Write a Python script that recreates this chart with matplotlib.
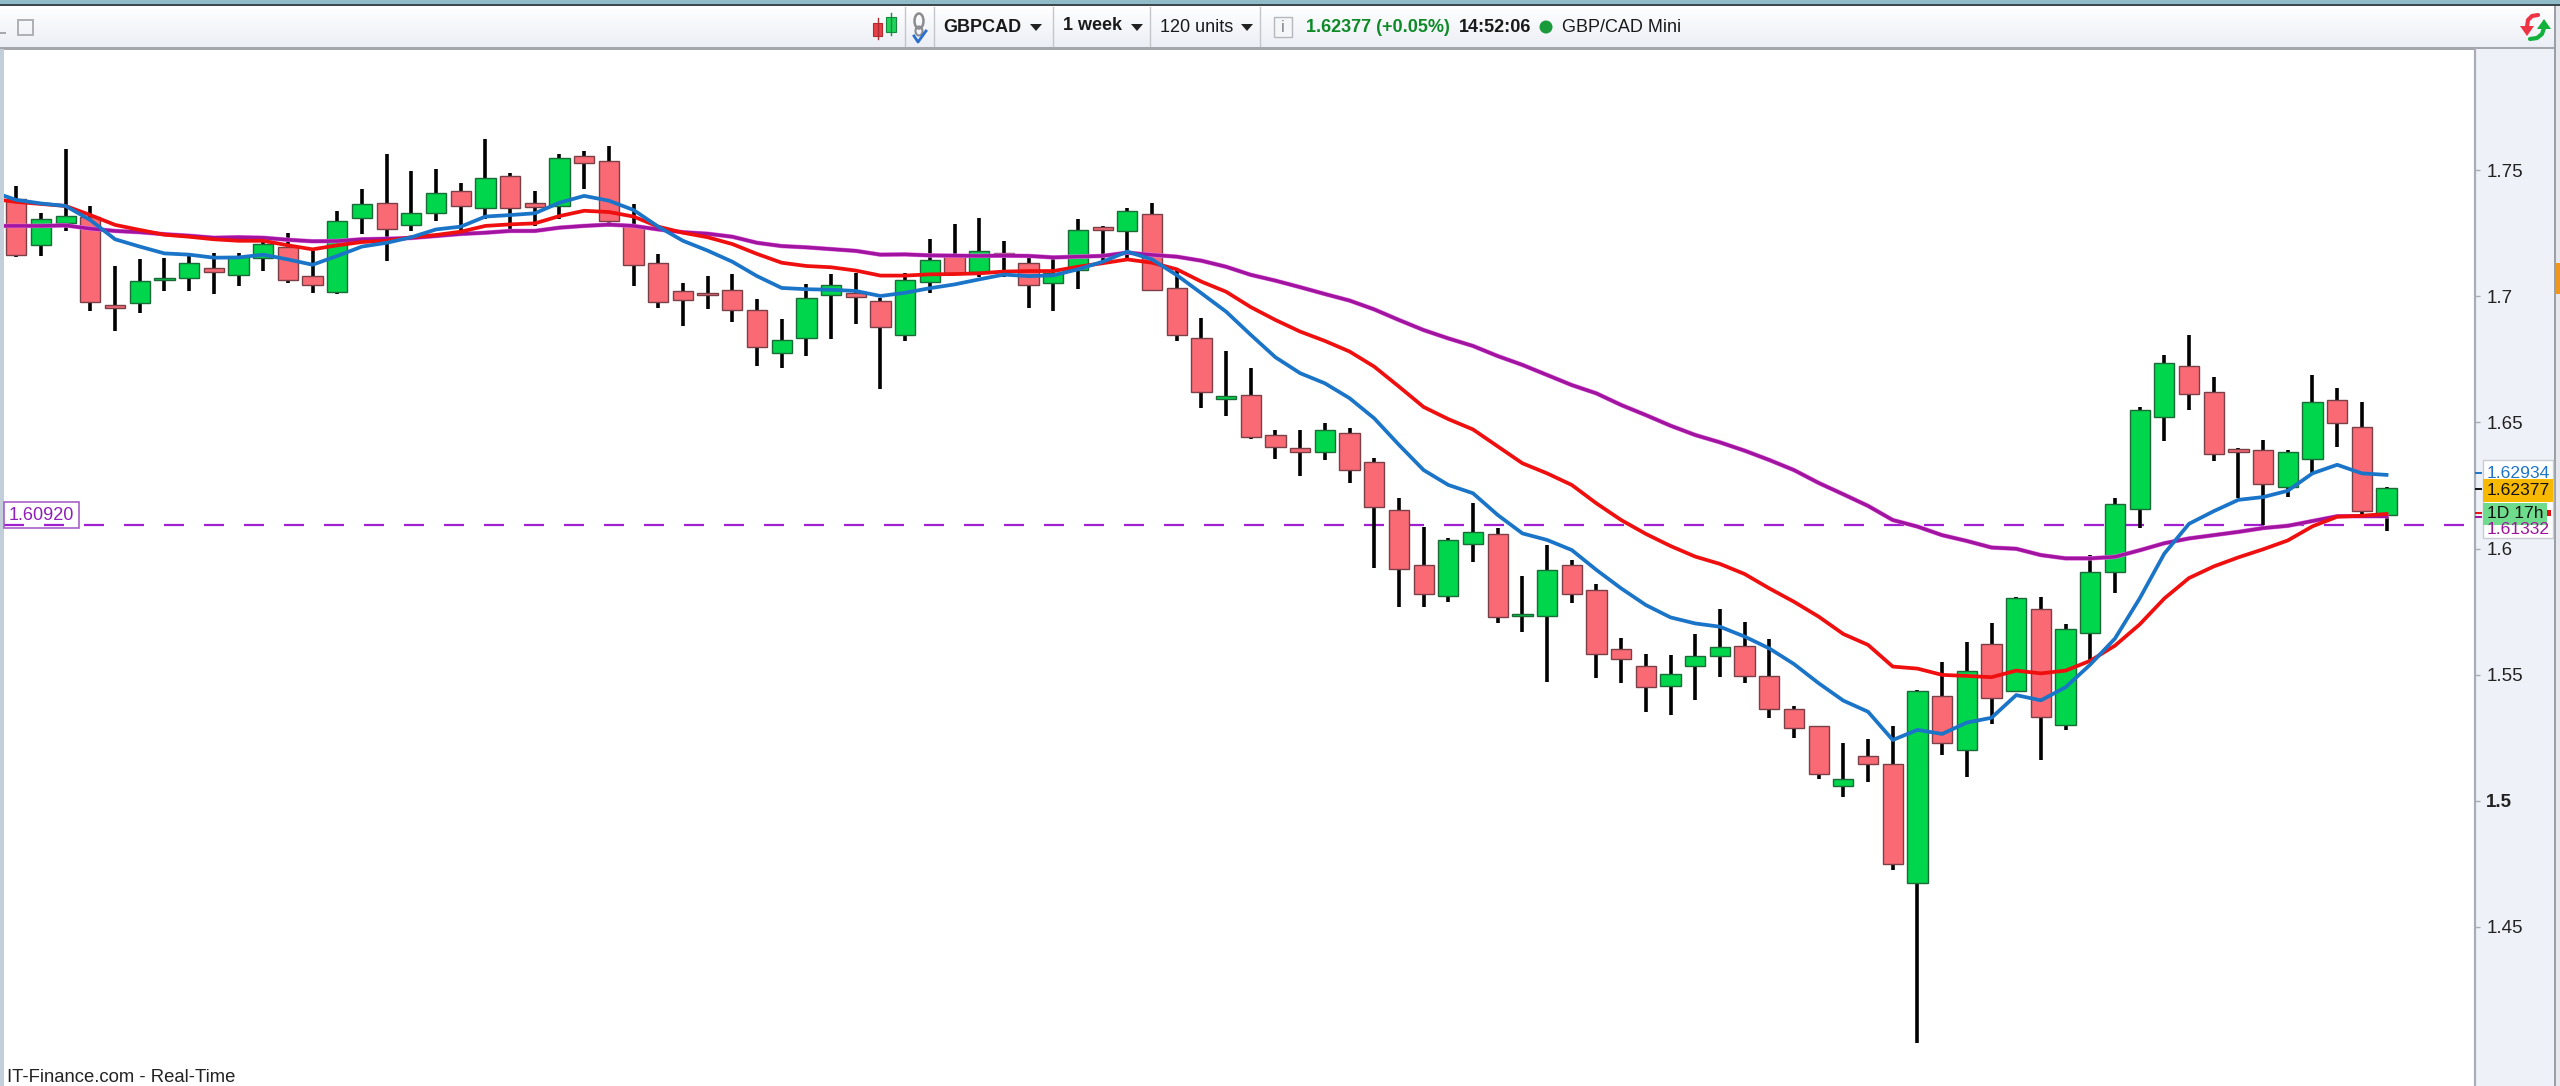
import matplotlib
matplotlib.use('Agg')
import matplotlib.pyplot as plt
import numpy as np
from matplotlib.patches import Rectangle, Ellipse, Circle, Polygon

plt.rcParams['font.family'] = ['Liberation Sans', 'DejaVu Sans']

W, H = 2560, 1086

# GBP/CAD weekly candles
opens = [1.7384, 1.7205, 1.7289, 1.7313, 1.6965, 1.6972, 1.7065, 1.7071, 1.7112, 1.7084,
         1.7153, 1.7197, 1.7079, 1.7018, 1.7310, 1.7371, 1.7284, 1.7330, 1.7417, 1.7350,
         1.7477, 1.7371, 1.7357, 1.7556, 1.7536, 1.7279, 1.7132, 1.7020, 1.7014, 1.7026,
         1.6947, 1.6774, 1.6833, 1.7006, 1.7014, 1.6980, 1.6846, 1.7058, 1.7158, 1.7098,
         1.7172, 1.7132, 1.7051, 1.7104, 1.7273, 1.7257, 1.7325, 1.7033, 1.6833, 1.6594,
         1.6609, 1.6450, 1.6397, 1.6384, 1.6457, 1.6344, 1.6151, 1.5933, 1.5813, 1.6018,
         1.6059, 1.5734, 1.5734, 1.5933, 1.5834, 1.5603, 1.5536, 1.5455, 1.5536, 1.5575,
         1.5615, 1.5496, 1.5363, 1.5297, 1.5057, 1.5179, 1.5145, 1.4676, 1.5415, 1.5200,
         1.5622, 1.5437, 1.5761, 1.5299, 1.5664, 1.5907, 1.6158, 1.6522, 1.6723, 1.6622,
         1.6393, 1.6390, 1.6244, 1.6356, 1.6588, 1.6481, 1.6133]
closes = [1.7164, 1.7305, 1.7318, 1.6979, 1.6952, 1.7059, 1.7074, 1.7132, 1.7098, 1.7157,
          1.7206, 1.7065, 1.7045, 1.7297, 1.7364, 1.7265, 1.7330, 1.7411, 1.7357, 1.7470,
          1.7350, 1.7355, 1.7549, 1.7530, 1.7297, 1.7125, 1.6979, 1.6985, 1.7005, 1.6946,
          1.6800, 1.6827, 1.6993, 1.7046, 1.6998, 1.6880, 1.7066, 1.7145, 1.7091, 1.7178,
          1.7160, 1.7046, 1.7091, 1.7264, 1.7263, 1.7338, 1.7025, 1.6846, 1.6621, 1.6605,
          1.6443, 1.6404, 1.6383, 1.6470, 1.6310, 1.6165, 1.5919, 1.5821, 1.6032, 1.6065,
          1.5727, 1.5742, 1.5914, 1.5821, 1.5582, 1.5562, 1.5450, 1.5503, 1.5575, 1.5610,
          1.5496, 1.5363, 1.5290, 1.5106, 1.5085, 1.5145, 1.4749, 1.5435, 1.5231, 1.5514,
          1.5409, 1.5802, 1.5331, 1.5681, 1.5907, 1.6178, 1.6549, 1.6734, 1.6614, 1.6376,
          1.6384, 1.6257, 1.6382, 1.6580, 1.6496, 1.6150, 1.6238]
highs = [1.7437, 1.7329, 1.7583, 1.7358, 1.7120, 1.7146, 1.7153, 1.7160, 1.7173, 1.7173,
         1.7217, 1.7252, 1.7181, 1.7338, 1.7424, 1.7564, 1.7497, 1.7503, 1.7450, 1.7623,
         1.7490, 1.7417, 1.7564, 1.7577, 1.7596, 1.7364, 1.7166, 1.7054, 1.7080, 1.7087,
         1.6988, 1.6909, 1.7047, 1.7087, 1.7094, 1.6992, 1.7094, 1.7226, 1.7285, 1.7312,
         1.7219, 1.7164, 1.7150, 1.7305, 1.7279, 1.7351, 1.7371, 1.7104, 1.6915, 1.6783,
         1.6717, 1.6470, 1.6470, 1.6496, 1.6477, 1.6358, 1.6199, 1.6087, 1.6040, 1.6179,
         1.6080, 1.5892, 1.6014, 1.5953, 1.5859, 1.5644, 1.5582, 1.5577, 1.5661, 1.5762,
         1.5707, 1.5643, 1.5377, 1.5297, 1.5231, 1.5244, 1.5297, 1.5441, 1.5550, 1.5630,
         1.5703, 1.5808, 1.5808, 1.5701, 1.5974, 1.6199, 1.6562, 1.6769, 1.6846, 1.6681,
         1.6397, 1.6429, 1.6392, 1.6689, 1.6637, 1.6582, 1.6244]
lows = [1.7154, 1.7161, 1.7260, 1.6942, 1.6864, 1.6935, 1.7021, 1.7021, 1.7009, 1.7042,
        1.7102, 1.7054, 1.7014, 1.7009, 1.7247, 1.7141, 1.7260, 1.7300, 1.7263, 1.7306,
        1.7267, 1.7280, 1.7306, 1.7425, 1.7273, 1.7042, 1.6955, 1.6882, 1.6948, 1.6897,
        1.6724, 1.6717, 1.6763, 1.6829, 1.6889, 1.6631, 1.6823, 1.7014, 1.7084, 1.7075,
        1.7075, 1.6955, 1.6942, 1.7027, 1.7128, 1.7150, 1.7021, 1.6823, 1.6558, 1.6525,
        1.6433, 1.6355, 1.6288, 1.6351, 1.6261, 1.5922, 1.5770, 1.5770, 1.5789, 1.5948,
        1.5703, 1.5670, 1.5472, 1.5783, 1.5485, 1.5466, 1.5353, 1.5340, 1.5400, 1.5492,
        1.5466, 1.5327, 1.5248, 1.5087, 1.5016, 1.5076, 1.4724, 1.4038, 1.5181, 1.5095,
        1.5306, 1.5437, 1.5162, 1.5282, 1.5559, 1.5825, 1.6083, 1.6425, 1.6550, 1.6347,
        1.6199, 1.6092, 1.6204, 1.6298, 1.6401, 1.6130, 1.6070]

# moving averages, first value sits one week left of the first candle
ma_blue = [1.7415, 1.7382, 1.7368, 1.7358, 1.7302, 1.7226, 1.7197, 1.7170, 1.7165, 1.7153,
           1.7154, 1.7165, 1.7146, 1.7125, 1.7160, 1.7197, 1.7212, 1.7234, 1.7265, 1.7276,
           1.7316, 1.7322, 1.7329, 1.7371, 1.7398, 1.7379, 1.7342, 1.7276, 1.7220, 1.7181,
           1.7137, 1.7080, 1.7033, 1.7028, 1.7026, 1.7021, 1.7001, 1.7014, 1.7032, 1.7047,
           1.7067, 1.7086, 1.7080, 1.7083, 1.7107, 1.7137, 1.7177, 1.7146, 1.7084, 1.7012,
           1.6939, 1.6847, 1.6758, 1.6695, 1.6655, 1.6596, 1.6516, 1.6411, 1.6311, 1.6252,
           1.6219, 1.6133, 1.6060, 1.6034, 1.5994, 1.5915, 1.5842, 1.5776, 1.5727, 1.5703,
           1.5690, 1.5651, 1.5604, 1.5542, 1.5466, 1.5397, 1.5353, 1.5241, 1.5281, 1.5265,
           1.5310, 1.5329, 1.5419, 1.5398, 1.5450, 1.5540, 1.5643, 1.5802, 1.5980, 1.6098,
           1.6148, 1.6193, 1.6204, 1.6229, 1.6298, 1.6332, 1.6298, 1.6292]
ma_red = [1.7387, 1.7374, 1.7366, 1.7358, 1.7322, 1.7283, 1.7263, 1.7244, 1.7236, 1.7226,
          1.7220, 1.7220, 1.7202, 1.7186, 1.7202, 1.7215, 1.7220, 1.7234, 1.7243, 1.7256,
          1.7279, 1.7285, 1.7289, 1.7318, 1.7339, 1.7334, 1.7316, 1.7276, 1.7252, 1.7234,
          1.7207, 1.7168, 1.7133, 1.7120, 1.7115, 1.7102, 1.7082, 1.7082, 1.7087, 1.7088,
          1.7091, 1.7098, 1.7100, 1.7100, 1.7117, 1.7131, 1.7146, 1.7133, 1.7107, 1.7058,
          1.7018, 1.6957, 1.6906, 1.6860, 1.6823, 1.6781, 1.6721, 1.6642, 1.6561, 1.6513,
          1.6472, 1.6405, 1.6338, 1.6298, 1.6252, 1.6179, 1.6113, 1.6058, 1.6010, 1.5968,
          1.5939, 1.5899, 1.5842, 1.5789, 1.5730, 1.5661, 1.5618, 1.5532, 1.5524, 1.5499,
          1.5495, 1.5490, 1.5516, 1.5505, 1.5516, 1.5555, 1.5615, 1.5699, 1.5802, 1.5883,
          1.5929, 1.5965, 1.5997, 1.6032, 1.6088, 1.6126, 1.6130, 1.6137]
ma_purple = [1.7279, 1.7279, 1.7279, 1.7281, 1.7268, 1.7259, 1.7254, 1.7246, 1.7240, 1.7232,
             1.7234, 1.7232, 1.7224, 1.7218, 1.7219, 1.7226, 1.7228, 1.7231, 1.7239, 1.7247,
             1.7252, 1.7259, 1.7259, 1.7272, 1.7279, 1.7284, 1.7279, 1.7265, 1.7254, 1.7248,
             1.7236, 1.7212, 1.7199, 1.7194, 1.7187, 1.7180, 1.7165, 1.7166, 1.7162, 1.7161,
             1.7160, 1.7161, 1.7160, 1.7154, 1.7157, 1.7160, 1.7173, 1.7164, 1.7157, 1.7141,
             1.7117, 1.7085, 1.7062, 1.7036, 1.7009, 1.6983, 1.6948, 1.6906, 1.6866, 1.6833,
             1.6803, 1.6763, 1.6728, 1.6688, 1.6648, 1.6615, 1.6569, 1.6529, 1.6487, 1.6450,
             1.6421, 1.6388, 1.6351, 1.6311, 1.6260, 1.6215, 1.6169, 1.6113, 1.6087, 1.6053,
             1.6030, 1.6004, 1.5999, 1.5974, 1.5961, 1.5961, 1.5967, 1.5993, 1.6021, 1.6040,
             1.6053, 1.6066, 1.6081, 1.6090, 1.6109, 1.6128, 1.6128, 1.6128]

y_ticks = [1.45, 1.5, 1.55, 1.6, 1.65, 1.7, 1.75]
y_tick_labels = ['1.45', '1.5', '1.55', '1.6', '1.65', '1.7', '1.75']
support_level = 1.6092

fig = plt.figure(figsize=(W / 100, H / 100), dpi=100, facecolor='white')

# full-figure layer in pixel coordinates for the toolbar and the right panel
bg = fig.add_axes([0, 0, 1, 1], zorder=0)
bg.set_xlim(0, W)
bg.set_ylim(H, 0)
bg.axis('off')

bg.add_patch(Rectangle((0, 0), W, 4, color='#8fbcc6', lw=0))
bg.add_patch(Rectangle((0, 4), W, 2.5, color='#3c4a50', lw=0))
grad = np.linspace(0, 1, 40)[:, None, None] * (np.array([0.925, 0.935, 0.965]) - 1) + 1
bg.imshow(grad, extent=(0, W, 47, 6), aspect='auto', zorder=1)
bg.set_xlim(0, W)
bg.set_ylim(H, 0)
bg.add_patch(Rectangle((0, 47), W, 2.5, color='#a4a6ac', lw=0, zorder=2))
bg.add_patch(Rectangle((0, 49), 3.5, H, color='#c3cedb', lw=0, zorder=2))
bg.add_patch(Rectangle((2475, 49), 80, H, color='#eef1f7', lw=0, zorder=2))
bg.add_patch(Rectangle((2555, 6), 5, H, color='#e6e8ee', lw=0, zorder=2))
bg.add_patch(Rectangle((2554, 6), 1.5, H, color='#9a9fa8', lw=0, zorder=3))
bg.add_patch(Rectangle((2556, 263), 4, 31, color='#f0951e', lw=0, zorder=3))

# main chart
left, right, top, bottom = 3.5, 2475, 49, H
x_lo = (left - 16.3) / 24.69
x_hi = (right - 16.3) / 24.69
y_hi = 1.65 + (422.4 - top) / 2522.5
y_lo = 1.65 + (422.4 - bottom) / 2522.5
ax = fig.add_axes([left / W, 1 - bottom / H, (right - left) / W, (bottom - top) / H], zorder=1)
ax.patch.set_alpha(0)

x = np.arange(len(opens))
opens_a = np.array(opens)
closes_a = np.array(closes)
up = closes_a >= opens_a

ax.axhline(support_level, color='#a020d0', lw=1.6, linestyle=(0, (9, 9)), zorder=1)
ax.vlines(x, lows, highs, color='black', lw=2.6, zorder=2)

body_bottom = np.minimum(opens_a, closes_a)
body_height = np.abs(closes_a - opens_a)
ax.bar(x[up], body_height[up], 0.82, bottom=body_bottom[up], color='#00d64b',
       edgecolor='#1c6a38', linewidth=1.0, zorder=3)
ax.bar(x[~up], body_height[~up], 0.82, bottom=body_bottom[~up], color='#fa6a74',
       edgecolor='#7a4048', linewidth=1.0, zorder=3)

x_ma = np.arange(-1, len(opens))
ax.plot(x_ma, ma_purple, color='#e878e8', lw=3.2, zorder=4)
ax.plot(x_ma, ma_purple, color='#a0149f', lw=2.5, zorder=4)
ax.plot(x_ma, ma_red, color='#f00f0f', lw=2.7, zorder=5)
ax.plot(x_ma, ma_blue, color='#1a74c8', lw=2.7, zorder=6)

ax.set_xlim(x_lo, x_hi)
ax.set_ylim(y_lo, y_hi)
ax.set_xticks([])
ax.yaxis.tick_right()
ax.set_yticks(y_ticks)
ax.set_yticklabels(y_tick_labels, fontsize=13.5, color='#222222')
ax.tick_params(axis='y', length=3.6, width=1, color='#a8aeb8', pad=4.5)
ax.get_yticklabels()[1].set_fontweight('bold')
for name in ['left', 'top', 'bottom']:
    ax.spines[name].set_visible(False)
ax.spines['right'].set_color('#a8aeb8')
ax.spines['right'].set_linewidth(1.6)

# top layer: toolbar contents and price labels
fg = fig.add_axes([0, 0, 1, 1], zorder=2)
fg.set_xlim(0, W)
fg.set_ylim(H, 0)
fg.axis('off')

fg.add_patch(Rectangle((0, 32), 6, 2, color='#a8a8ac', lw=0))
fg.add_patch(Rectangle((17.5, 19.5), 15, 15, fc='none', ec='#b0b0b4', lw=1.4))

# candle icon
fg.plot([877.5, 877.5], [18, 39], color='#b02a30', lw=1)
fg.add_patch(Rectangle((873, 23), 9, 13, fc='#e8404a', ec='#b02a30', lw=0.8))
fg.plot([891, 891], [13, 35], color='#138a3c', lw=1)
fg.add_patch(Rectangle((886, 17), 10, 15, fc='#1ed45a', ec='#138a3c', lw=0.8))

# link icon
fg.add_patch(Ellipse((919, 21), 9, 15, fc='none', ec='#8c8c90', lw=1.8))
fg.add_patch(Ellipse((919, 31), 7, 9, fc='none', ec='#8c8c90', lw=1.5))
fg.plot([914, 918, 926], [36, 42, 31], color='#2a6fd0', lw=2)

for sep in [905, 934, 1053, 1150, 1260]:
    fg.plot([sep, sep], [7, 46], color='#c4c6cc', lw=1)

bar_y = 27
fg.text(943, bar_y, 'GBPCAD', fontsize=13, fontweight='bold', color='#1a1a1a', va='center')
fg.text(1063, bar_y - 1, '1 week', fontsize=13, fontweight='bold', color='#1a1a1a', va='center')
fg.text(1160, bar_y, '120 units', fontsize=13, color='#1a1a1a', va='center')
for arrow_x in [1036, 1137, 1247]:
    fg.add_patch(Polygon([[arrow_x - 6, bar_y - 3], [arrow_x + 6, bar_y - 3], [arrow_x, bar_y + 4]],
                         color='#222222', lw=0))
fg.add_patch(Rectangle((1274, 17), 18, 20, fc='#f4f6f8', ec='#b4b8bc', lw=1))
fg.text(1283, bar_y, 'i', fontsize=12, color='#808488', ha='center', va='center')
fg.text(1306, bar_y, '1.62377 (+0.05%)', fontsize=13, fontweight='bold', color='#0f8a28', va='center')
fg.text(1459, bar_y, '14:52:06', fontsize=13, fontweight='bold', color='#1a1a1a', va='center')
fg.add_patch(Circle((1546, bar_y), 6.5, color='#1a9a3a', lw=0))
fg.text(1562, bar_y, 'GBP/CAD Mini', fontsize=13, color='#1a1a1a', va='center')

# refresh arrows in the corner
fg.plot([2538, 2532, 2528, 2527], [15, 16, 20, 27], color='#ee3344', lw=3, solid_capstyle='round')
fg.add_patch(Polygon([[2520, 26], [2534, 26], [2527, 36]], color='#ee3344', lw=0))
fg.plot([2530, 2537, 2542, 2544], [39, 38, 34, 28], color='#11b13c', lw=3, solid_capstyle='round')
fg.add_patch(Polygon([[2537, 29], [2551, 29], [2544, 19]], color='#11b13c', lw=0))

# left label on the dashed level
fg.add_patch(Rectangle((3.5, 502), 75.5, 26, fc='none', ec='#a860c8', lw=1.2))
fg.text(9, 515, '1.60920', fontsize=13, color='#8f1fb8', va='center')

# price labels at the right
fg.add_patch(Rectangle((2483, 460), 70, 78, fc='white', ec='#c8ccd4', lw=1))
fg.text(2487, 473, '1.62934', fontsize=12.6, color='#1d74c8', va='center')
fg.add_patch(Rectangle((2547, 510), 4, 6, color='#e81010', lw=0))
fg.text(2487, 529, '1.61332', fontsize=12.6, color='#a0149f', va='center')
fg.add_patch(Rectangle((2483, 479), 70, 23, color='#f7b800', lw=0))
fg.text(2487, 490.5, '1.62377', fontsize=12.6, color='#111111', va='center')
fg.add_patch(Rectangle((2483, 503), 64, 22, color='#6edc8c', lw=0))
fg.text(2487, 514, '1D 17h', fontsize=12.6, color='#111111', va='center')
fg.plot([2476, 2481], [473, 473], color='#1d74c8', lw=1.4)
fg.plot([2476, 2481], [489, 489], color='#111111', lw=1.4)
fg.plot([2476, 2481], [513, 513], color='#e81010', lw=1.4)
fg.plot([2476, 2481], [517, 517], color='#a0149f', lw=1.4)

fg.text(7, 1078, 'IT-Finance.com - Real-Time', fontsize=13.3, color='#222222', va='center')

fig.savefig('out.png', dpi=100, facecolor='white')
